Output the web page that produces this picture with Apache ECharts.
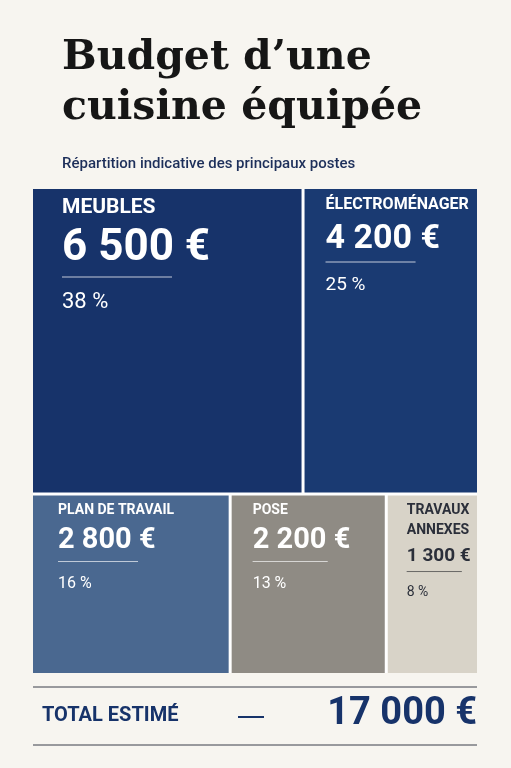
<!DOCTYPE html><html><head><meta charset="utf-8"><script src="https://cdn.jsdelivr.net/npm/echarts@6/dist/echarts.min.js"></script>
<style>html,body{margin:0;background:#f7f5f0}#c{width:511px;height:768px}</style></head><body><div id="c"></div><script>
const names=['MEUBLES','ÉLECTROMÉNAGER','PLAN DE TRAVAIL','POSE','TRAVAUX\nANNEXES'];
const values=[6500,4200,2800,2200,1300];
const pcts=['38 %','25 %','16 %','13 %','8 %'];
const colors=['#17336a','#1a3a72','#4a6890','#8f8b84','#d8d3c8'];
const F='"Liberation Sans Narrow","Roboto",sans-serif';
const sizes=[[21,44,22,110],[16,34,19,90],[14,29,16,80],[14,29,16,75],[14,19,14,55]];
const padL=[24,16,20,16,14];
function fmt(v){return v.toLocaleString('fr-FR').replace(/\u202f|\u00a0|,/g,' ')+' €';}
function item(i){const s=sizes[i];const tc=i===4?'#2b2f3a':'#fff';const lc=i===4?'#555':'rgba(255,255,255,0.7)';
return {name:names[i],value:values[i],itemStyle:{color:colors[i]},
label:{show:true,position:[padL[i],'50%'],verticalAlign:'middle',align:'left',
formatter:()=>`{n|${names[i]}}\n{v|${fmt(values[i])}}\n{hr|}\n{p|${pcts[i]}}`,
rich:{n:{fontFamily:F,fontWeight:'bold',fontSize:s[0],color:tc,lineHeight:s[0]+6},
v:{fontFamily:F,fontWeight:'bold',fontSize:s[1],color:tc,lineHeight:s[1]+12},
hr:{width:s[3],height:0,borderColor:lc,borderWidth:0.6},
p:{fontFamily:F,fontSize:s[2],color:tc,lineHeight:s[2]+16,padding:[12,0,0,0]}}}};}
const c=echarts.init(document.getElementById('c'));
c.setOption({backgroundColor:'#f7f5f0',
title:[{text:'Budget d’une\ncuisine équipée',left:57,top:28,textStyle:{fontFamily:'"DejaVu Serif",serif',fontWeight:'bold',fontSize:41,lineHeight:50,color:'#161616'}},
{text:'Répartition indicative des principaux postes',left:57,top:152,textStyle:{fontFamily:'"Roboto",sans-serif',fontWeight:'500',fontSize:15,color:'#1d2f5a'}}],
series:[{type:'treemap',left:33,top:189,width:444,height:484,roam:false,nodeClick:false,breadcrumb:{show:false},
sort:false,squareRatio:0.3,
levels:[{itemStyle:{gapWidth:3,borderWidth:0}},{itemStyle:{gapWidth:3,borderWidth:0}},{}],
data:[{name:'top',value:values[0]+values[1],children:[item(0),item(1)]},
{name:'bottom',value:values[2]+values[3]+values[4],children:[item(2),item(3),item(4)]}]}],
graphic:[{type:'line',shape:{x1:33,y1:687,x2:477,y2:687},style:{stroke:'#3a3f4a',lineWidth:1}},
{type:'line',shape:{x1:33,y1:745,x2:477,y2:745},style:{stroke:'#3a3f4a',lineWidth:1}},
{type:'text',left:42,top:706,style:{text:'TOTAL ESTIMÉ',font:'bold 20px '+F,fill:'#17336a'}},
{type:'line',shape:{x1:238,y1:717,x2:264,y2:717},style:{stroke:'#17336a',lineWidth:2}},
{type:'text',right:34,top:695,style:{text:fmt(17000),font:'bold 38px '+F,fill:'#17336a'}}]});
</script></body></html>
